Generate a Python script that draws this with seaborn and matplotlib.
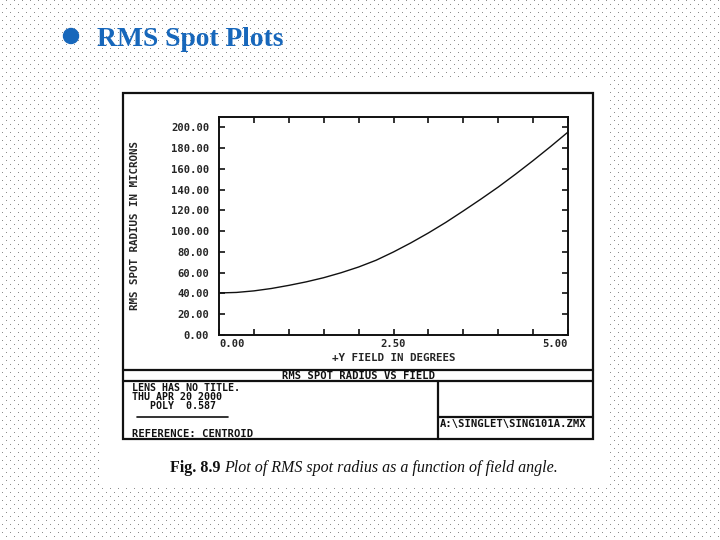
import numpy as np
import pandas as pd
import seaborn as sns
import matplotlib.pyplot as plt
from matplotlib.patches import Rectangle, Circle

# data
field_deg = [0.0, 0.25, 0.5, 0.75, 1.0, 1.25, 1.5, 1.75, 2.0, 2.25, 2.5,
             2.75, 3.0, 3.25, 3.5, 3.75, 4.0, 4.25, 4.5, 4.75, 5.0]
rms_radius = [40.5, 41.0, 42.5, 44.8, 47.8, 51.2, 55.2, 60.0, 65.5, 72.0, 80.0,
              88.8, 98.3, 108.5, 119.5, 130.8, 142.5, 155.0, 168.0, 181.5, 195.5]
y_ticks = [0, 20, 40, 60, 80, 100, 120, 140, 160, 180, 200]
x_ticks = [0.0, 2.5, 5.0]
x_minor = [0.5, 1.0, 1.5, 2.0, 3.0, 3.5, 4.0, 4.5]

slide_title = "RMS Spot Plots"
plot_title = "RMS SPOT RADIUS VS FIELD"
info_lines = ["LENS HAS NO TITLE.", "THU APR 20 2000", "   POLY  0.587"]
reference = "REFERENCE: CENTROID"
file_name = "A:\\SINGLET\\SING101A.ZMX"

df = pd.DataFrame({"field": field_deg, "rms": rms_radius})

sns.set_style("white")
W, H = 720, 540
fig = plt.figure(figsize=(7.2, 5.4), dpi=100)

# slide background (pixel coordinates, y down) - 1px dotted pattern
bg = fig.add_axes([0, 0, 1, 1], zorder=0)
dots = np.ones((H, W, 3))
for r in range(0, H, 4):
    off = 6 if (r // 4) % 2 == 0 else 2
    dots[r, off::8, :] = 0.55
bg.imshow(dots, extent=(0, W, H, 0), interpolation="nearest", zorder=0.5)
bg.set_xlim(0, W)
bg.set_ylim(H, 0)
bg.axis("off")

# title
bg.add_patch(Circle((71, 36), 7.5, color="#1767bb", zorder=3))
bg.text(97, 46, slide_title, fontsize=19.8, family="Liberation Serif", weight="bold",
        color="#1767bb", va="baseline", ha="left", zorder=6)

# scanned page
bg.add_patch(Rectangle((100, 80), 510, 407, facecolor="white", edgecolor="none", zorder=2))
kw = dict(color="#111111", lw=1.6, zorder=4)
bg.add_patch(Rectangle((123, 93), 470, 346, facecolor="none", edgecolor="#111111", lw=1.6, zorder=4))
bg.plot([123, 593], [370, 370], **kw)
bg.plot([123, 593], [381, 381], **kw)
bg.plot([438, 438], [381, 439], **kw)
bg.plot([438, 593], [417, 417], **kw)
bg.plot([137, 228], [417, 417], color="#111111", lw=1.2, zorder=4)

mono = dict(family="DejaVu Sans Mono", weight="bold", fontsize=7.6, color="#111111", zorder=5)
bg.text(359, 376, plot_title, ha="center", va="center", **mono)
for i, line in enumerate(info_lines):
    bg.text(132, 388 + i * 9, line, ha="left", va="center",
            **{**mono, "fontsize": 7.2})
bg.text(132, 434, reference, ha="left", va="center", **mono)
bg.text(440, 424, file_name, ha="left", va="center", **mono)

# caption
cap = bg.text(170, 472, "Fig. 8.9 ", family="Liberation Serif", weight="bold",
              fontsize=11.5, color="#111111", va="baseline", ha="left", zorder=5)
bg.annotate("Plot of RMS spot radius as a function of field angle.", xy=(1, 0),
            xycoords=cap, va="bottom", ha="left", family="Liberation Serif",
            style="italic", fontsize=11.5, color="#111111", zorder=5)

# main plot
ax = fig.add_axes([219 / W, 1 - 335 / H, 349 / W, 218 / H], zorder=3)
sns.lineplot(data=df, x="field", y="rms", ax=ax, color="#111111", linewidth=1.0)
ax.set_xlim(0, 5)
ax.set_ylim(0, 210)
ax.set_xticks(x_ticks)
ax.set_xticks(x_minor, minor=True)
ax.set_yticks(y_ticks)
ax.set_xticklabels([f"{v:.2f}" for v in x_ticks])
ax.set_yticklabels([f"{v:.2f}" for v in y_ticks])
for s in ax.spines.values():
    s.set_visible(True)
    s.set_linewidth(1.4)
    s.set_color("#111111")
ax.tick_params(which="both", direction="in", top=True, right=True, left=True, bottom=True,
               length=4, width=1.2, color="#111111", pad=3)
ax.tick_params(axis="y", pad=7)
for lab in ax.get_xticklabels() + ax.get_yticklabels():
    lab.set_family("DejaVu Sans Mono")
    lab.set_weight("bold")
    lab.set_fontsize(7.6)
xl = ax.get_xticklabels()
xl[0].set_ha("left")
xl[-1].set_ha("right")
ax.set_xlabel("+Y FIELD IN DEGREES", family="DejaVu Sans Mono", weight="bold",
              fontsize=7.8, labelpad=3)
ax.set_ylabel("RMS SPOT RADIUS IN MICRONS", family="DejaVu Sans Mono", weight="bold",
              fontsize=7.8)
ax.yaxis.set_label_coords(-0.225, 0.5)

fig.savefig("out.png", dpi=100)
